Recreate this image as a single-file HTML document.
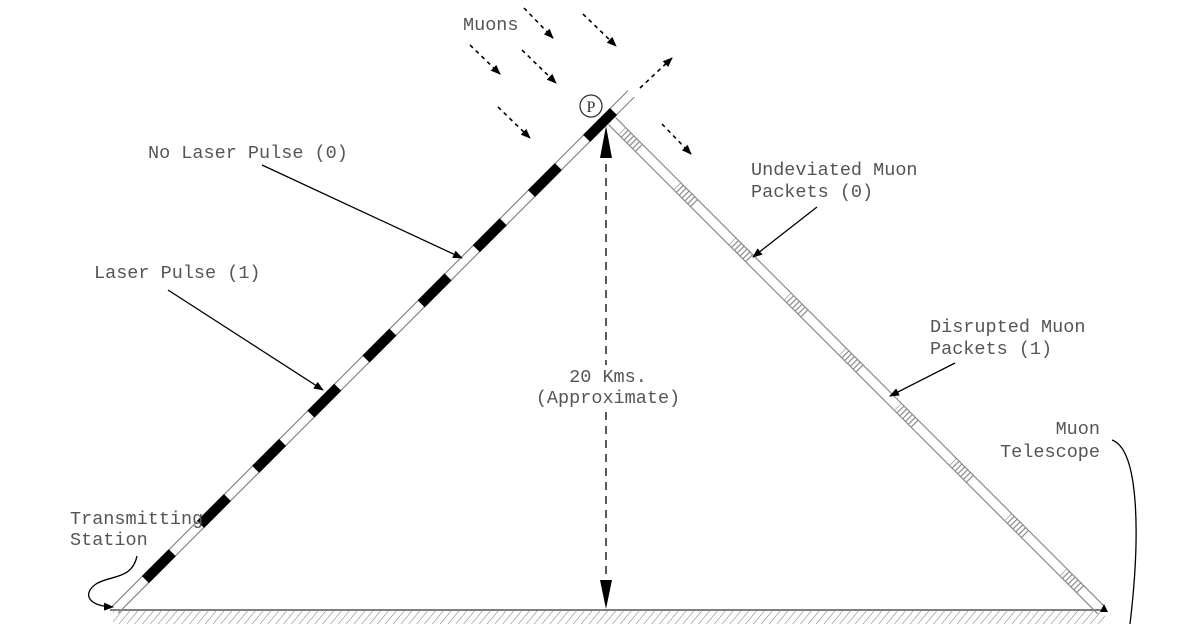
<!DOCTYPE html>
<html><head><style>
body{margin:0;background:#fff}
svg{display:block}
text{font-family:"Liberation Mono",monospace;font-size:18.5px;fill:#555}
</style></head><body>
<svg width="1200" height="624" viewBox="0 0 1200 624" xmlns="http://www.w3.org/2000/svg">
<defs>
<marker id="ah" markerWidth="10" markerHeight="8" refX="9" refY="4" orient="auto" markerUnits="userSpaceOnUse"><path d="M0,0 L10,4 L0,8 z" fill="#000"/></marker>
<pattern id="hatch" width="6" height="14" patternUnits="userSpaceOnUse" patternTransform="rotate(40)"><line x1="0" y1="0" x2="0" y2="14" stroke="#777" stroke-width="1"/></pattern>
<pattern id="ticks" x="14" width="78" height="10" patternUnits="userSpaceOnUse">
<g stroke="#888" stroke-width="1.2">
<line x1="0" y1="0" x2="0" y2="10"/><line x1="4" y1="0" x2="4" y2="10"/><line x1="8" y1="0" x2="8" y2="10"/><line x1="12" y1="0" x2="12" y2="10"/><line x1="16" y1="0" x2="16" y2="10"/><line x1="20" y1="0" x2="20" y2="10"/><line x1="24" y1="0" x2="24" y2="10"/>
</g></pattern>
</defs>

<rect x="113" y="611" width="992" height="13" fill="url(#hatch)"/>
<line x1="110" y1="610" x2="1105" y2="610" stroke="#555" stroke-width="1.5"/>

<g transform="translate(115,610) rotate(-45)">
<line x1="0" y1="-4.5" x2="730" y2="-4.5" stroke="#888" stroke-width="1.2"/>
<line x1="0" y1="4.5" x2="730" y2="4.5" stroke="#888" stroke-width="1.2"/>
<line x1="43" y1="0" x2="710" y2="0" stroke="#000" stroke-width="10" stroke-dasharray="38 40"/>
</g>

<g transform="translate(612,121) rotate(45)">
<rect x="0" y="-5" width="692" height="10" fill="url(#ticks)"/>
<line x1="0" y1="-5" x2="692" y2="-5" stroke="#888" stroke-width="1.2"/>
<line x1="0" y1="5" x2="692" y2="5" stroke="#888" stroke-width="1.2"/>
</g>

<circle cx="591" cy="106" r="11" fill="#fff" stroke="#333" stroke-width="1.3"/>
<text x="591" y="112" text-anchor="middle" style="font-family:'Liberation Serif',serif;font-size:16px;fill:#333">P</text>

<g stroke="#000" stroke-width="1.6" stroke-dasharray="4 4" fill="none" marker-end="url(#ah)">
<line x1="524" y1="8" x2="553" y2="38"/>
<line x1="583" y1="14" x2="616" y2="46"/>
<line x1="470" y1="45" x2="500" y2="74"/>
<line x1="522" y1="50" x2="556" y2="83"/>
<line x1="498" y1="107" x2="530" y2="138"/>
<line x1="662" y1="124" x2="691" y2="154"/>
<line x1="640" y1="88" x2="672" y2="58"/>
</g>

<g stroke="#000" stroke-width="1.3" stroke-dasharray="8 6">
<line x1="606" y1="150" x2="606" y2="365"/>
<line x1="606" y1="412" x2="606" y2="590"/>
</g>
<path d="M606,126 L600,158 L612,158 z" fill="#000"/>
<path d="M606,609 L600,580 L612,580 z" fill="#000"/>
<text x="608" y="382" text-anchor="middle">20 Kms.</text>
<text x="608" y="403" text-anchor="middle">(Approximate)</text>

<text x="463" y="30">Muons</text>
<text x="148" y="158">No Laser Pulse (0)</text>
<text x="94" y="278">Laser Pulse (1)</text>
<text x="751" y="175">Undeviated Muon</text>
<text x="751" y="197">Packets (0)</text>
<text x="930" y="332">Disrupted Muon</text>
<text x="930" y="354">Packets (1)</text>
<text x="1100" y="434" text-anchor="end">Muon</text>
<text x="1100" y="457" text-anchor="end">Telescope</text>
<text x="70" y="524">Transmitting</text>
<text x="70" y="545">Station</text>

<g stroke="#000" stroke-width="1.3" fill="none">
<line x1="262" y1="165" x2="462" y2="258" marker-end="url(#ah)"/>
<line x1="168" y1="290" x2="323" y2="390" marker-end="url(#ah)"/>
<line x1="817" y1="207" x2="753" y2="257" marker-end="url(#ah)"/>
<line x1="955" y1="363" x2="890" y2="396" marker-end="url(#ah)"/>
<path d="M137,556 C132,580 110,575 96,584 C82,594 88,606 113,607" marker-end="url(#ah)"/>
<path d="M1112,440 C1140,450 1140,540 1130,624"/>
</g>
<path d="M1104,604 L1100,612 L1108,612 z" fill="#000"/>
</svg>
</body></html>
